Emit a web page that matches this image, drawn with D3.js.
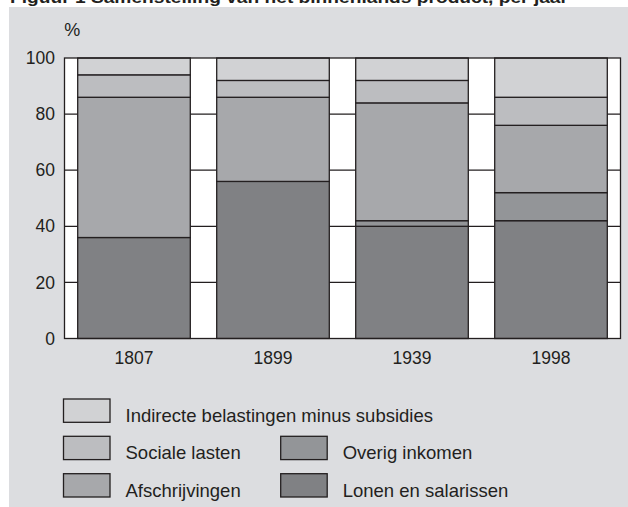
<!DOCTYPE html>
<html><head><meta charset="utf-8">
<script src="https://cdn.jsdelivr.net/npm/d3@7"></script>
<style>html,body{margin:0;padding:0;background:#fff;}svg{display:block;}</style>
</head><body>
<svg id="chart" width="628" height="507"></svg>
<script>
const years = ["1807", "1899", "1939", "1998"];
const seriesNames = ["Lonen en salarissen", "Overig inkomen", "Afschrijvingen", "Sociale lasten", "Indirecte belastingen minus subsidies"];
const lonen = [36, 56, 40, 42];
const overig = [0, 0, 2, 10];
const afschrijvingen = [50, 30, 42, 24];
const socialeLasten = [8, 6, 8, 10];
const indirecte = [6, 8, 8, 14];
const yTicks = [0, 20, 40, 60, 80, 100];
const colors = ["#808184", "#939598", "#a7a8ab", "#bcbdc0", "#d1d2d4"];

const seriesValues = [lonen, overig, afschrijvingen, socialeLasten, indirecte];
const table = years.map((y, i) => {
  const row = {year: y};
  seriesNames.forEach((s, k) => row[s] = seriesValues[k][i]);
  return row;
});

const svg = d3.select("#chart");
const ink = "#231f20";
const font = "'Liberation Sans', Arial, Helvetica, sans-serif";

// title (cut off at the top edge in the reference)
svg.append("text").attr("x", 10).attr("y", 3)
  .attr("font-family", font).attr("font-size", 17).attr("font-weight", "bold").attr("fill", ink)
  .attr("textLength", 558).attr("lengthAdjust", "spacingAndGlyphs")
  .text("Figuur 1  Samenstelling van het binnenlands product, per jaar");

svg.append("rect").attr("x", 9).attr("y", 7).attr("width", 619).attr("height", 500).attr("fill", "#dcdde0");

const L = 64.5, R = 620.5, T = 58, B = 338.5;
const x = d3.scaleBand().domain(years).range([L, R]).paddingInner(0.19).paddingOuter(0.095);
const y = d3.scaleLinear().domain([0, 100]).range([B, T]);

svg.append("rect").attr("x", L).attr("y", T).attr("width", R - L).attr("height", B - T).attr("fill", "#fff");

// grid lines
svg.append("g").selectAll("line").data(yTicks.filter(t => t > 0 && t < 100)).join("line")
  .attr("x1", L).attr("x2", R).attr("y1", d => y(d)).attr("y2", d => y(d))
  .attr("stroke", ink).attr("stroke-width", 1.2);

const stack = d3.stack().keys(seriesNames)(table);
const g = svg.append("g");
stack.forEach((layer, k) => {
  g.append("g").selectAll("rect").data(layer).join("rect")
    .attr("x", d => x(d.data.year)).attr("width", x.bandwidth())
    .attr("y", d => y(d[1])).attr("height", d => y(d[0]) - y(d[1]))
    .attr("fill", colors[k]).attr("stroke", ink).attr("stroke-width", 1.3);
});

svg.append("rect").attr("x", L).attr("y", T).attr("width", R - L).attr("height", B - T)
  .attr("fill", "none").attr("stroke", ink).attr("stroke-width", 1.3);

const yAxis = svg.append("g").attr("transform", `translate(${L},0)`)
  .call(d3.axisLeft(y).tickValues(yTicks).tickSize(0).tickPadding(9.5));
yAxis.select(".domain").remove();
yAxis.selectAll("text").attr("font-family", font).attr("font-size", 17.5).attr("fill", ink);

const xAxis = svg.append("g").attr("transform", `translate(0,${B})`)
  .call(d3.axisBottom(x).tickSize(0).tickPadding(13));
xAxis.select(".domain").remove();
xAxis.selectAll("text").attr("font-family", font).attr("font-size", 17.5).attr("fill", ink);

svg.append("text").attr("x", 64.3).attr("y", 36).attr("font-family", font).attr("font-size", 18)
  .attr("fill", ink).text("%");

// legend
const legendItems = [
  {k: 4, col: 0, row: 0},
  {k: 3, col: 0, row: 1},
  {k: 1, col: 1, row: 1},
  {k: 2, col: 0, row: 2},
  {k: 0, col: 1, row: 2}
];
const colX = [63.5, 280.7], rowY = [399, 436.3, 473.7];
const lg = svg.append("g");
legendItems.forEach(it => {
  lg.append("rect").attr("x", colX[it.col]).attr("y", rowY[it.row]).attr("width", 46.5).attr("height", 23.3)
    .attr("fill", colors[it.k]).attr("stroke", ink).attr("stroke-width", 1.3);
  lg.append("text").attr("x", colX[it.col] + 62).attr("y", rowY[it.row] + 23)
    .attr("font-family", font).attr("font-size", 18.5).attr("fill", ink).text(seriesNames[it.k]);
});
</script>
</body></html>
